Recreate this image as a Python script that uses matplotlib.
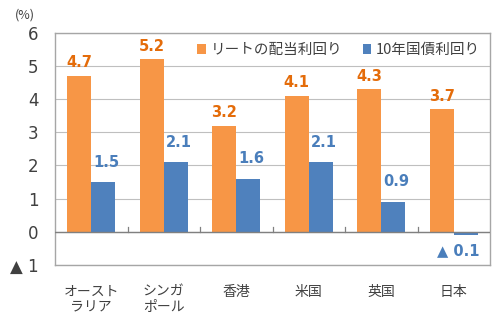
import matplotlib
matplotlib.use("Agg")
import matplotlib.pyplot as plt
import numpy as np

plt.rcParams['font.family'] = ['Noto Sans CJK JP', 'DejaVu Sans']
num_font = ['DejaVu Sans', 'Noto Sans CJK JP']

countries = ['オースト\nラリア', 'シンガ\nポール', '香港', '米国', '英国', '日本']
reit_yield = [4.7, 5.2, 3.2, 4.1, 4.3, 3.7]
bond_yield = [1.5, 2.1, 1.6, 2.1, 0.9, -0.1]
series_names = ['リートの配当利回り', '10年国債利回り']
yticks = [-1, 0, 1, 2, 3, 4, 5, 6]
ytick_labels = ['▲ 1', '0', '1', '2', '3', '4', '5', '6']

orange = '#F79646'
blue = '#4F81BD'
orange_txt = '#E46C0A'
blue_txt = '#4A7EBB'
txt = '#404040'


def fmt(v):
    return '▲ %.1f' % abs(v) if v < 0 else '%.1f' % v


fig = plt.figure(figsize=(5, 3.29), dpi=100)
ax = fig.add_axes([0.11, 0.195, 0.87, 0.705])

x = np.arange(len(countries))
w = 0.333
b1 = ax.bar(x - w / 2, reit_yield, w, color=orange, label=series_names[0], zorder=2)
b2 = ax.bar(x + w / 2, bond_yield, w, color=blue, label=series_names[1], zorder=2)

for rect, v in zip(b1, reit_yield):
    ax.annotate(fmt(v), (rect.get_x() + rect.get_width() / 2, v),
                xytext=(0, 4), textcoords='offset points', ha='center', va='bottom',
                fontsize=10.5, fontweight='bold', color=orange_txt, family=num_font)
for rect, v in zip(b2, bond_yield):
    if v >= 0:
        ax.annotate(fmt(v), (rect.get_x() + rect.get_width() / 2, v),
                    xytext=(2, 9), textcoords='offset points', ha='center', va='bottom',
                    fontsize=10.5, fontweight='bold', color=blue_txt, family=num_font)
    else:
        ax.annotate(fmt(v), (rect.get_x() + rect.get_width(), v),
                    xytext=(1, -6), textcoords='offset points', ha='right', va='top',
                    fontsize=10.5, fontweight='bold', color=blue_txt, family=num_font)

ax.set_xlim(-0.5, len(countries) - 0.5)
ax.set_ylim(-1, 6)
ax.set_yticks(yticks)
ax.set_yticklabels(ytick_labels, fontsize=12, color=txt, family=num_font)
ax.yaxis.grid(True, color='#BFBFBF', linewidth=0.8, zorder=0)
ax.set_axisbelow(True)
ax.tick_params(axis='y', length=0, pad=12)

# category labels below the plot, boundary ticks on the zero line
ax.set_xticks([])
for i, name in enumerate(countries):
    ax.text(i, -1.6, name, ha='center', va='top', fontsize=10, color=txt,
            linespacing=1.15, transform=ax.transData)
for b in np.arange(0.5, len(countries) - 0.5):
    ax.plot([b, b], [0, 0.15], color='#808080', linewidth=0.9, zorder=3)
ax.axhline(0, color='#808080', linewidth=1.0, zorder=3)

for s in ax.spines.values():
    s.set_color('#A6A6A6')
    s.set_linewidth(1.0)

ax.legend(loc='upper right', ncol=2, frameon=False, fontsize=10.5,
          handlelength=0.6, handleheight=0.6, handletextpad=0.3,
          columnspacing=1.4, borderaxespad=0.3, labelcolor=txt)

fig.text(0.03, 0.955, '(%)', fontsize=9, color=txt, ha='left', va='center')

fig.savefig('out.png', dpi=100)
